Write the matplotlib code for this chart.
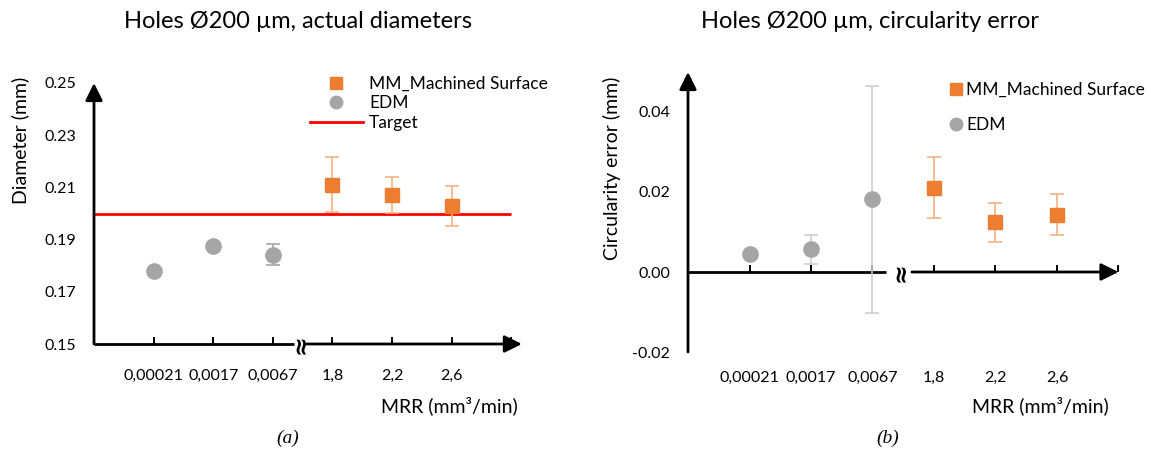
import matplotlib
matplotlib.use("Agg")
import matplotlib.pyplot as plt
from matplotlib.lines import Line2D

plt.rcParams['font.family'] = ['Lato', 'DejaVu Sans']

# categories (MRR, mm3/min) shown at equally spaced positions
mrr_labels = ["0,00021", "0,0017", "0,0067", "1,8", "2,2", "2,6"]
edm_pos = [1, 2, 3]
mm_pos = [4, 5, 6]

# (a) actual diameters (mm)
edm_diam = [0.178, 0.1876, 0.1842]
edm_diam_err = [0.0, 0.0, 0.0041]
mm_diam = [0.2111, 0.2071, 0.2030]
mm_diam_err = [0.0105, 0.0070, 0.0077]
target = 0.200

# (b) circularity error (mm)
edm_circ = [0.0045, 0.0057, 0.0182]
edm_circ_err = [0.0, 0.0036, 0.0284]
mm_circ = [0.0211, 0.0124, 0.0143]
mm_circ_err = [0.0077, 0.0048, 0.0051]

orange = "#ED7D31"
gray = "#A5A5A5"

W, H = 1151, 453
fig = plt.figure(figsize=(W / 100, H / 100), dpi=100)


def px_axes(x0, y_top, w, h):
    return fig.add_axes([x0 / W, 1 - (y_top + h) / H, w / W, h / H])


def arrow(ax, x0, y0, x1, y1):
    ax.annotate("", xy=(x1, y1), xytext=(x0, y0), annotation_clip=False,
                arrowprops=dict(arrowstyle="-|>,head_length=1.05,head_width=0.52",
                                mutation_scale=10, lw=2, color="black",
                                shrinkA=0, shrinkB=0))


def style(ax, yticks, ylabels, xpad):
    for s in ax.spines.values():
        s.set_visible(False)
    ax.patch.set_alpha(0)
    ax.set_xticks(list(range(1, 8)))
    ax.set_xticklabels(mrr_labels + [""])
    ax.tick_params(axis="x", direction="in", length=5, width=1.4, pad=xpad, labelsize=11.5)
    ax.set_yticks(yticks)
    ax.set_yticklabels(ylabels)
    ax.tick_params(axis="y", length=0, pad=13, labelsize=11.5)


def axis_break(ax, x, y):
    ax.text(x, y, "≈", rotation=90, ha="center", va="center", fontsize=17,
            fontweight="bold", family="DejaVu Sans")


# ---------- (a) ----------
ax1 = px_axes(94, 83, 7.3 * 59.6, 261)
ax1.set_xlim(0, 7.3)
ax1.set_ylim(0.15, 0.25)
style(ax1, [0.15, 0.17, 0.19, 0.21, 0.23, 0.25],
      ["0.15", "0.17", "0.19", "0.21", "0.23", "0.25"], 18)

ax1.hlines(target, 0, 7.0, color="red", lw=2, zorder=2)
ax1.errorbar(mm_pos, mm_diam, yerr=mm_diam_err, fmt="s", ms=10, color=orange,
             ecolor="#F4B183", elinewidth=1.2, capsize=5, capthick=1.2, zorder=3,
             clip_on=False)
ax1.errorbar(edm_pos, edm_diam, yerr=edm_diam_err, fmt="o", ms=11, color=gray,
             ecolor=gray, elinewidth=1.2, capsize=5, capthick=1.2, zorder=3,
             clip_on=False)

ax1.plot([0, 3.35], [0.15, 0.15], color="black", lw=2, solid_capstyle="butt", clip_on=False)
arrow(ax1, 3.57, 0.15, 7.18, 0.15)
arrow(ax1, 0, 0.15, 0, 0.25)
axis_break(ax1, 3.46, 0.15)

fig.legend(handles=[
    Line2D([], [], ls="none", marker="s", ms=8.6, color=orange),
    Line2D([], [], ls="none", marker="o", ms=9, color=gray),
    Line2D([], [], color="red", lw=2)],
    labels=["MM_Machined Surface", "EDM", "Target"],
    loc="upper left", bbox_to_anchor=(310 / W, 1 - 76 / H), frameon=False,
    fontsize=12.5, handlelength=3.05, handletextpad=0.35, labelspacing=0.2,
    borderpad=0, borderaxespad=0)

fig.text(298 / W, 1 - 22 / H, "Holes Ø200 µm, actual diameters", fontsize=17,
         ha="center", va="center")
fig.text(20 / W, 1 - 140 / H, "Diameter (mm)", rotation=90, fontsize=14,
         ha="center", va="center")
fig.text(449 / W, 1 - 406 / H, "MRR (mm³/min)", fontsize=14,
         ha="center", va="center")
fig.text(288 / W, 1 - 438 / H, "(a)", fontsize=14, style="italic",
         family="Liberation Serif", ha="center", va="center")

# ---------- (b) ----------
ax2 = px_axes(688, 72, 7.3 * 61.5, 280)
ax2.set_xlim(0, 7.3)
ax2.set_ylim(-0.02, 0.05)
ax2.spines["bottom"].set_position(("data", 0))
style(ax2, [-0.02, 0.0, 0.02, 0.04], ["-0.02", "0.00", "0.02", "0.04"], 71)

ax2.errorbar(mm_pos, mm_circ, yerr=mm_circ_err, fmt="s", ms=10, color=orange,
             ecolor="#F4B183", elinewidth=1.2, capsize=5, capthick=1.2, zorder=3)
ax2.errorbar(edm_pos, edm_circ, yerr=edm_circ_err, fmt="o", ms=11, color=gray,
             ecolor="#CFCFCF", elinewidth=1.2, capsize=5, capthick=1.2, zorder=3)

ax2.plot([0, 3.22], [0, 0], color="black", lw=2, solid_capstyle="butt", zorder=2)
arrow(ax2, 3.64, 0, 7.0, 0)
arrow(ax2, 0, -0.02, 0, 0.05)
axis_break(ax2, 3.45, 0)

fig.legend(handles=[
    Line2D([], [], ls="none", marker="s", ms=8.6, color=orange),
    Line2D([], [], ls="none", marker="o", ms=9, color=gray)],
    labels=["MM_Machined Surface", "EDM"],
    loc="upper left", bbox_to_anchor=(950 / W, 1 - 82 / H), frameon=False,
    fontsize=12.5, handlelength=0.7, handletextpad=0.25, labelspacing=1.08,
    borderpad=0, borderaxespad=0)

fig.text(870 / W, 1 - 22 / H, "Holes Ø200 µm, circularity error", fontsize=17,
         ha="center", va="center")
fig.text(612 / W, 1 - 168 / H, "Circularity error (mm)", rotation=90, fontsize=14,
         ha="center", va="center")
fig.text(1040 / W, 1 - 406 / H, "MRR (mm³/min)", fontsize=14,
         ha="center", va="center")
fig.text(888 / W, 1 - 438 / H, "(b)", fontsize=14, style="italic",
         family="Liberation Serif", ha="center", va="center")

fig.savefig("out.png", dpi=100)
